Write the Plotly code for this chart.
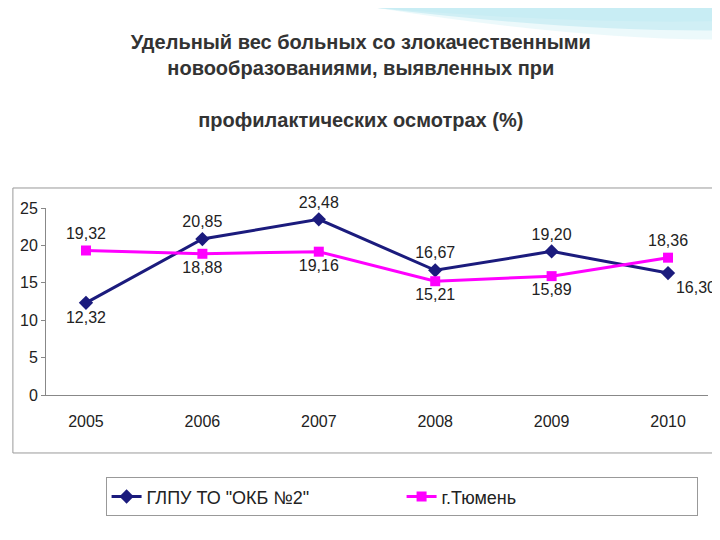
import plotly.graph_objects as go

years = ["2005", "2006", "2007", "2008", "2009", "2010"]
okb = [12.32, 20.85, 23.48, 16.67, 19.20, 16.30]
tyumen = [19.32, 18.88, 19.16, 15.21, 15.89, 18.36]
okb_pos = ["bottom center", "top center", "top center", "top center", "top center", "bottom right"]
tyu_pos = ["top center", "bottom center", "bottom center", "bottom center", "bottom center", "top center"]

def lab(v):
    return [f"{x:.2f}".replace(".", ",") for x in v]

fig = go.Figure()
fig.add_trace(go.Scatter(x=years, y=okb, name='ГЛПУ ТО "ОКБ №2"', mode="lines+markers+text",
                         line=dict(color="#1b1b7d", width=3), marker=dict(symbol="diamond", size=11),
                         text=lab(okb), textposition=okb_pos, cliponaxis=False,
                         textfont=dict(size=16, color="#222")))
fig.add_trace(go.Scatter(x=years, y=tyumen, name="г.Тюмень", mode="lines+markers+text",
                         line=dict(color="#ff00ff", width=3), marker=dict(symbol="square", size=10),
                         text=lab(tyumen), textposition=tyu_pos, cliponaxis=False,
                         textfont=dict(size=16, color="#222")))

# decorative swooshes top right
for i, c in enumerate(["#bfe9f2", "#8fd8e8", "#d9f3f8"]):
    fig.add_shape(type="path", xref="paper", yref="paper", layer="below",
                  path=f"M 0.5 2.07 Q 0.8 {1.98 - i*0.04} 1.03 {2.0 - i*0.05} L 1.03 2.07 Z",
                  fillcolor=c, line=dict(width=0), opacity=0.5)

fig.add_shape(type="rect", xref="paper", yref="paper", x0=-0.05, x1=1.007, y0=-0.31, y1=1.107,
              line=dict(color="#999", width=1))

fig.update_layout(
    width=720, height=540, paper_bgcolor="white", plot_bgcolor="white",
    margin=dict(l=38, r=20, t=200, b=153),
    font=dict(family="Liberation Sans, Arial", size=16, color="#222"),
    title=dict(text="<b>Удельный вес больных со злокачественными<br>новообразованиями, выявленных при<br><br>профилактических осмотрах (%)</b>",
               x=0.49, xanchor="center", y=0.925, yanchor="top",
               font=dict(size=20, color="#333", family="Liberation Sans, Arial")),
    xaxis=dict(showgrid=False, showline=True, linecolor="#888", ticks="outside", ticklen=12,
               tickcolor="white", tickfont=dict(size=16)),
    yaxis=dict(range=[0, 25], dtick=5, showgrid=False, showline=True, linecolor="#888",
               zeroline=False, tickfont=dict(size=16), ticks="outside", ticklen=4, tickcolor="#888"),
    legend=dict(orientation="h", x=0.09, y=-0.44, xanchor="left", yanchor="top",
                bordercolor="#999", borderwidth=1, entrywidth=250, font=dict(size=18)),
    showlegend=True,
)
fig.write_html("out.html")
